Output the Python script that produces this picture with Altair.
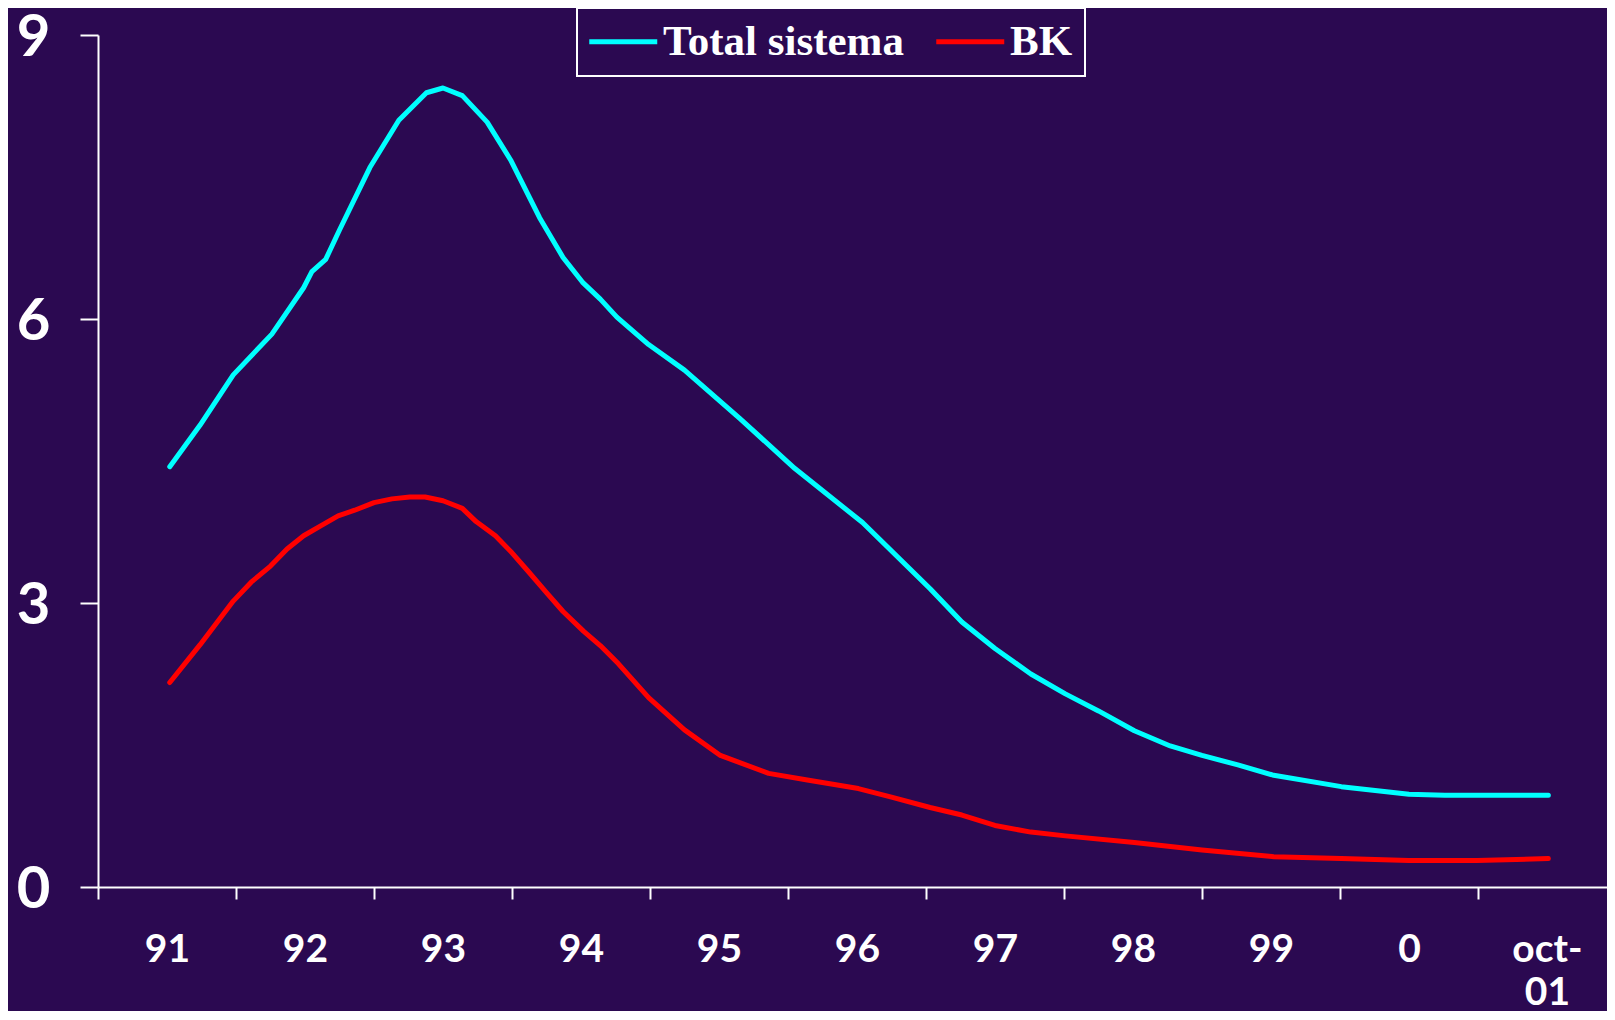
import json
import altair as alt
import pandas as pd

# ---- data ----
series_names = ["Total sistema", "BK"]
series_colors = ["#00FFFF", "#FF0000"]

# x position in "year bands" (0 = start of 91 band, 10.5 = centre of oct-01)
total_t = [0.52, 0.74, 0.98, 1.26, 1.49, 1.55, 1.65, 1.75, 1.97, 2.18, 2.38, 2.50, 2.64,
           2.82, 2.99, 3.20, 3.37, 3.51, 3.64, 3.76, 3.99, 4.25, 4.65, 5.05, 5.54, 6.03,
           6.26, 6.50, 6.76, 7.01, 7.25, 7.51, 7.77, 8.00, 8.26, 8.52, 9.01, 9.50, 9.76, 10.51]
total_v = [4.44, 4.88, 5.41, 5.84, 6.33, 6.50, 6.63, 6.94, 7.60, 8.10, 8.39, 8.44, 8.36,
           8.08, 7.68, 7.07, 6.65, 6.39, 6.21, 6.02, 5.73, 5.46, 4.95, 4.42, 3.85, 3.15,
           2.80, 2.52, 2.25, 2.04, 1.86, 1.65, 1.49, 1.39, 1.29, 1.18, 1.06, 0.98, 0.97, 0.97]

bk_t = [0.52, 0.74, 0.98, 1.11, 1.25, 1.37, 1.49, 1.62, 1.74, 1.86, 2.00, 2.13, 2.26, 2.37,
        2.50, 2.64, 2.74, 2.88, 3.00, 3.12, 3.25, 3.37, 3.52, 3.64, 3.77, 3.99, 4.25, 4.51,
        4.86, 5.14, 5.51, 5.75, 6.03, 6.26, 6.50, 6.76, 7.01, 7.51, 8.00, 8.52, 9.01, 9.50,
        9.99, 10.51]
bk_v = [2.16, 2.56, 3.02, 3.22, 3.39, 3.57, 3.71, 3.82, 3.92, 3.98, 4.06, 4.10, 4.12, 4.12,
        4.08, 4.00, 3.86, 3.71, 3.53, 3.33, 3.11, 2.91, 2.70, 2.55, 2.36, 2.00, 1.66, 1.39,
        1.20, 1.13, 1.04, 0.95, 0.84, 0.76, 0.65, 0.58, 0.54, 0.47, 0.39, 0.32, 0.30, 0.28,
        0.28, 0.30]

x_label_positions = [0.5, 1.5, 2.5, 3.5, 4.5, 5.5, 6.5, 7.5, 8.5, 9.5, 10.5]
x_tick_labels = [["91"], ["92"], ["93"], ["94"], ["95"], ["96"], ["97"], ["98"], ["99"],
                 ["0"], ["oct-", "01"]]
y_ticks = [0, 3, 6, 9]

rows = []
for t, v in zip(total_t, total_v):
    rows.append({"t": t, "v": v, "series": series_names[0]})
for t, v in zip(bk_t, bk_v):
    rows.append({"t": t, "v": v, "series": series_names[1]})
df = pd.DataFrame(rows)

BG = "#2B0951"
band_px = 138

label_expr = json.dumps(x_tick_labels) + "[round(datum.value - 0.5)]"

chart = alt.Chart(df).mark_line(
    strokeWidth=5, strokeCap="round", strokeJoin="round"
).encode(
    x=alt.X(
        "t:Q",
        scale=alt.Scale(domain=[0, 10.935], nice=False, zero=False),
        axis=alt.Axis(
            values=x_label_positions,
            labelExpr=label_expr,
            tickOffset=-band_px / 2,
            labelOffset=band_px / 2,
            title=None,
            grid=False,
            tickSize=12,
            labelPadding=31,
            labelFont="Lato",
            labelFontWeight="bold",
            labelFontSize=39,
            labelLineHeight=43,
            labelColor="white",
            labelOverlap=False,
            labelFlush=False,
            labelBound=False,
        ),
    ),
    y=alt.Y(
        "v:Q",
        scale=alt.Scale(domain=[0, 9], nice=False),
        axis=alt.Axis(
            values=y_ticks,
            title=None,
            grid=False,
            tickSize=18,
            labelPadding=30,
            labelOffset=3,
            labelFont="Lato",
            labelFontWeight="bold",
            labelFontSize=58,
            labelColor="white",
            labelOverlap=False,
            labelFlush=False,
        ),
    ),
    color=alt.Color(
        "series:N",
        scale=alt.Scale(domain=series_names, range=series_colors),
        sort=series_names,
        legend=alt.Legend(
            title=None,
            orient="none",
            legendX=479,
            legendY=-27,
            direction="horizontal",
            symbolType="M-1.25,0H2.75",
            symbolSize=1156,
            symbolStrokeWidth=5,
            labelFont="Liberation Serif",
            labelFontWeight="bold",
            labelFontSize=43,
            labelColor="white",
            labelLimit=600,
            labelOffset=31,
            columnPadding=22,
            padding=12,
            strokeColor="white",
            fillColor=BG,
        ),
    ),
).properties(
    width=1509,
    height=852,
    autosize=alt.AutoSizeParams(type="none"),
    padding={"left": 90, "top": 27, "right": 0, "bottom": 124},
    background=BG,
).configure_view(
    stroke=None
).configure_axis(
    domainColor="white",
    domainWidth=2,
    tickColor="white",
    tickWidth=2,
).configure_legend(
    strokeWidth=2
)

chart.save("out.html", embed_options={"renderer": "svg", "actions": False})
